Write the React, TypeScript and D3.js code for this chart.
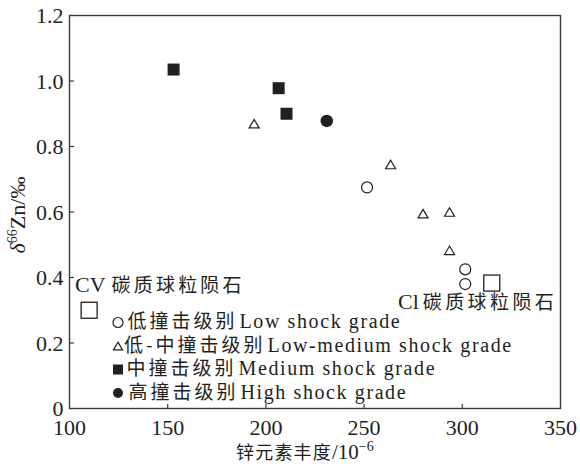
import React from "react";
import * as d3 from "d3";

// Zinc abundance (10^-6) and δ66Zn (‰) by shock grade
const lowX = [251.5, 301.5, 301.5];
const lowY = [0.675, 0.425, 0.38];
const lowMedX = [194, 263.5, 280, 293.5, 293.5];
const lowMedY = [0.87, 0.745, 0.595, 0.6, 0.483];
const medX = [153, 206.5, 210.5];
const medY = [1.035, 0.978, 0.9];
const highX = [231];
const highY = [0.878];

// Carbonaceous chondrite reference values
const refNames = ["CV", "Cl"];
const refX = [110, 315];
const refY = [0.3, 0.383];

const xTicks = [100, 150, 200, 250, 300, 350];
const yTicks = [0, 0.2, 0.4, 0.6, 0.8, 1.0, 1.2];
const yTickLabels = ["0", "0.2", "0.4", "0.6", "0.8", "1.0", "1.2"];

const legendCn = ["低撞击级别", "低-中撞击级别", "中撞击级别", "高撞击级别"];
const legendEn = ["Low shock grade", "Low-medium shock grade", "Medium shock grade", "High shock grade"];
const legendKind = ["openCircle", "triangle", "square", "dot"];

const W = 580;
const H = 466;
const SERIF = "'Liberation Serif', 'Times New Roman', serif";
const CJK = "'Noto Sans CJK SC', sans-serif";
const INK = "#231f20";

function Marker({ kind, cx, cy, s }: { kind: string; cx: number; cy: number; s: number }) {
  if (kind === "openCircle")
    return <circle cx={cx} cy={cy} r={s / 2} fill="white" stroke={INK} strokeWidth={1.2} />;
  if (kind === "dot") return <circle cx={cx} cy={cy} r={s / 2} fill={INK} />;
  if (kind === "square")
    return <rect x={cx - s / 2} y={cy - s / 2} width={s} height={s} fill={INK} />;
  const h = s * 0.85;
  const p = [
    [cx, cy - h / 2],
    [cx + s / 2, cy + h / 2],
    [cx - s / 2, cy + h / 2],
  ];
  return (
    <polygon
      points={p.map((q) => q.join(",")).join(" ")}
      fill="white"
      stroke={INK}
      strokeWidth={1.2}
      strokeLinejoin="miter"
    />
  );
}

export default function App() {
  const x = d3.scaleLinear().domain([100, 350]).range([69.5, 560.5]);
  const y = d3.scaleLinear().domain([0, 1.2]).range([408.5, 15.5]);
  const [x0, x1] = x.range();
  const [y0, y1] = y.range();

  const series = [
    { kind: "openCircle", xs: lowX, ys: lowY, s: 11 },
    { kind: "triangle", xs: lowMedX, ys: lowMedY, s: 10 },
    { kind: "square", xs: medX, ys: medY, s: 12 },
    { kind: "dot", xs: highX, ys: highY, s: 12.5 },
  ];

  const legendRowY = [328, 351.5, 375, 398.5];
  const legendTextX = [127.5, 124, 126.5, 128.5];

  return (
    <svg
      width={W}
      height={H}
      viewBox={`0 0 ${W} ${H}`}
      style={{ position: "absolute", left: 0, top: 0, background: "white" }}
    >
      <rect x={0} y={0} width={W} height={H} fill="white" />

      {/* plot frame */}
      <rect
        x={x0}
        y={y1}
        width={x1 - x0}
        height={y0 - y1}
        fill="none"
        stroke="#3a3a3a"
        strokeWidth={1.4}
      />

      {/* inward ticks */}
      {xTicks.slice(1, -1).map((t) => (
        <line key={"xt" + t} x1={x(t)} x2={x(t)} y1={y0} y2={y0 - 4.5} stroke="#3a3a3a" strokeWidth={1.2} />
      ))}
      {yTicks.slice(1, -1).map((t) => (
        <line key={"yt" + t} x1={x0} x2={x0 + 4.5} y1={y(t)} y2={y(t)} stroke="#3a3a3a" strokeWidth={1.2} />
      ))}

      {/* tick labels */}
      {xTicks.map((t) => (
        <text
          key={"xl" + t}
          x={x(t)}
          y={434.5}
          textAnchor="middle"
          fontFamily={SERIF}
          fontSize={22}
          fill={INK}
        >
          {t}
        </text>
      ))}
      {yTicks.map((t, i) => (
        <text
          key={"yl" + t}
          x={63.5}
          y={y(t) + 7.5}
          textAnchor="end"
          fontFamily={SERIF}
          fontSize={22}
          fill={INK}
        >
          {yTickLabels[i]}
        </text>
      ))}

      {/* axis titles */}
      <text x={236} y={459} fill={INK}>
        <tspan fontFamily={CJK} fontSize={18} letterSpacing={1.2}>
          锌元素丰度
        </tspan>
        <tspan fontFamily={SERIF} fontSize={21}>
          /10
        </tspan>
        <tspan fontFamily={SERIF} fontSize={14} dy={-8}>
          −6
        </tspan>
      </text>
      <text transform="translate(25,215) rotate(-90)" textAnchor="middle" fill={INK} fontFamily={SERIF}>
        <tspan fontStyle="italic" fontSize={22}>
          δ
        </tspan>
        <tspan fontSize={14} dy={-8}>
          66
        </tspan>
        <tspan fontSize={22} dy={8}>
          Zn/‰
        </tspan>
      </text>

      {/* reference chondrites */}
      {refX.map((v, i) => (
        <rect
          key={"ref" + i}
          x={x(v) - 8}
          y={y(refY[i]) - 8}
          width={16}
          height={16}
          fill="white"
          stroke={INK}
          strokeWidth={1.3}
        />
      ))}
      <text x={75} y={292} fill={INK}>
        <tspan fontFamily={SERIF} fontSize={22}>
          {refNames[0]}
        </tspan>
        <tspan fontFamily={CJK} fontSize={19} letterSpacing={3.2} dx={6}>
          碳质球粒陨石
        </tspan>
      </text>
      <text x={398} y={309} fill={INK}>
        <tspan fontFamily={SERIF} fontSize={22}>
          {refNames[1]}
        </tspan>
        <tspan fontFamily={CJK} fontSize={19} letterSpacing={3.4} dx={4}>
          碳质球粒陨石
        </tspan>
      </text>

      {/* data points */}
      {series.map((s) =>
        s.xs.map((v, i) => (
          <Marker key={s.kind + i} kind={s.kind} cx={x(v)} cy={y(s.ys[i])} s={s.s} />
        ))
      )}

      {/* legend */}
      {legendCn.map((cn, i) => (
        <g key={"lg" + i}>
          <Marker kind={legendKind[i]} cx={118} cy={legendRowY[i] - 5.5} s={legendKind[i] === "triangle" ? 9 : 10} />
          <text x={legendTextX[i]} y={legendRowY[i]} fill={INK}>
            <tspan fontFamily={CJK} fontSize={19} letterSpacing={3}>
              {cn}
            </tspan>
            <tspan fontFamily={SERIF} fontSize={20} letterSpacing={1.6} dx={2}>
              {legendEn[i]}
            </tspan>
          </text>
        </g>
      ))}
    </svg>
  );
}
